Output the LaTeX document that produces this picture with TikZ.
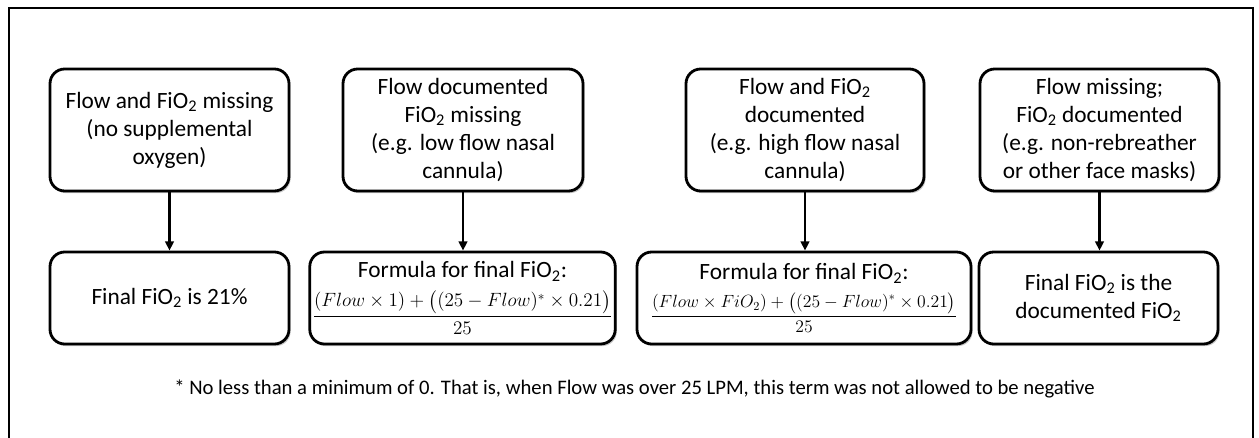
\documentclass[tikz,border=0pt]{standalone}
\usepackage{amsmath}
\usepackage{graphicx}
\usepackage{fontspec}
\setmainfont{Carlito}
\usetikzlibrary{shadows,arrows.meta}
\tikzset{
  box/.style={draw=black, line width=2.1pt, rounded corners=11pt, fill=white,
    align=center, inner sep=2pt,
    font=\fontsize{17.5pt}{21pt}\selectfont,
    drop shadow={shadow xshift=1.2pt, shadow yshift=-1.6pt, fill=black, opacity=0.22}},
  conn/.style={line width=1.9pt, -{Triangle[length=7pt,width=6.5pt]}},
  frame/.style={line width=1.3pt},
  note/.style={font=\fontsize{15.5pt}{18pt}\selectfont}
}
\newcommand{\fio}{FiO\textsubscript{2}}
\begin{document}
\begin{tikzpicture}[x=0.75pt,y=-0.75pt]
\useasboundingbox (0,0) rectangle (1259,438);
\draw[frame] (9,438) -- (9,8) -- (1253,8) -- (1253,438);
% top row
\node[box, minimum width=179.25pt, minimum height=91.5pt] (t1) at (169.5,130)
  {Flow and \fio{} missing\\(no supplemental\\oxygen)};
\node[box, minimum width=180pt, minimum height=91.5pt] (t2) at (463,130)
  {Flow documented\\\fio{} missing\\(e.g. low flow nasal\\cannula)};
\node[box, minimum width=178.5pt, minimum height=91.5pt] (t3) at (805,130)
  {Flow and \fio{}\\documented\\(e.g. high flow nasal\\cannula)};
\node[box, minimum width=179.25pt, minimum height=91.5pt] (t4) at (1099.5,130)
  {Flow missing;\\\fio{} documented\\(e.g. non-rebreather\\or other face masks)};
% bottom row
\node[box, minimum width=179.25pt, minimum height=69pt] (b1) at (169.5,298)
  {Final \fio{} is 21\%};
\node[box, minimum width=225.75pt, minimum height=69pt] (b2) at (462.5,298)
  {Formula for final \fio{}:\\[6pt]
   {\fontsize{14.5pt}{16pt}\selectfont$\dfrac{(Flow\times 1)+\bigl((25-Flow)^{*}\times 0.21\bigr)}{25}$}};
\node[box, minimum width=250.5pt, minimum height=69pt] (b3) at (804,298)
  {Formula for final \fio{}:\\[6pt]
   \scalebox{0.92}{\fontsize{14.5pt}{16pt}\selectfont$\dfrac{(Flow\times FiO_2)+\bigl((25-Flow)^{*}\times 0.21\bigr)}{25}$}};
\node[box, minimum width=179.25pt, minimum height=69pt] (b4) at (1098.5,298)
  {Final \fio{} is the\\documented \fio{}};
% connectors
\draw[conn] (t1.south) -- (t1.south |- b1.north);
\draw[conn] (t2.south) -- (t2.south |- b2.north);
\draw[conn] (t3.south) -- (t3.south |- b3.north);
\draw[conn] (t4.south) -- (t4.south |- b4.north);
% footnote
\node[note] (fn) at (634.5,389)
  {* No less than a minimum of 0. That is, when Flow was over 25 LPM, this term was not allowed to be negative};
\end{tikzpicture}
\end{document}
